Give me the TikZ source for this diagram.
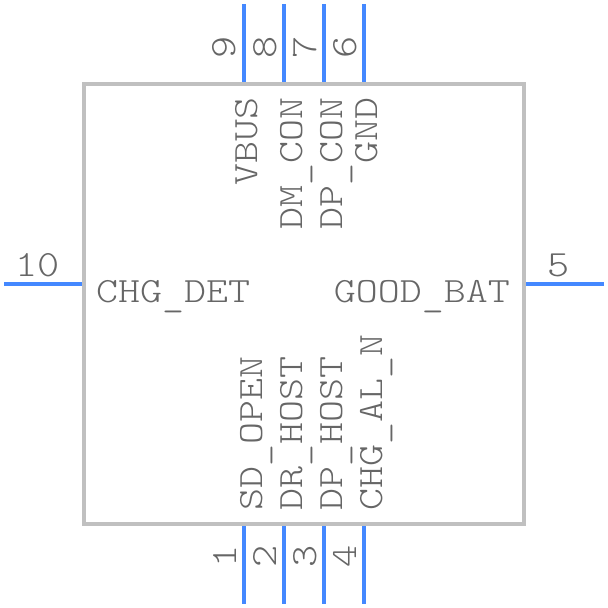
\documentclass[tikz,border=0pt]{standalone}
\usepackage{fontspec}
\newfontfamily\numfont[FakeStretch=1.14]{Latin Modern Mono Light}
\newfontfamily\namefont[FakeStretch=1.18]{Latin Modern Mono Light}
\newcommand{\lowbar}{\raisebox{-4pt}{\_}}
\definecolor{pinblue}{HTML}{4488FF}
\definecolor{boxgray}{HTML}{C0C0C0}
\definecolor{textgray}{HTML}{666666}
\tikzset{
    chipbox/.style={draw=boxgray, line width=4pt, minimum size=440pt, inner sep=0pt},
    pinline/.style={draw=pinblue, line width=4pt},
    pinlabel/.style={font=\fontsize{37}{37}\numfont, text=textgray, inner sep=0pt},
    signame/.style={font=\fontsize{35.5}{36}\namefont, text=textgray, inner sep=0pt}
}
\begin{document}
\begin{tikzpicture}[x=1pt, y=-1pt]
    \useasboundingbox (0,0) rectangle (608,608);

    % Chip outline
    \node[chipbox] (chip) at (304,304) {};

    % Top pins
    \foreach \num/\xpos/\base in {9/244/235, 8/284/276, 7/324/316, 6/364/356} {
        \coordinate (end\num) at (\xpos,4);
        \coordinate (pin\num) at (\xpos,82);
        \draw[pinline] (end\num) -- (pin\num);
        \node[pinlabel, rotate=90, anchor=base west] (num\num) at (\base,59) {\num};
    }

    % Bottom pins
    \foreach \num/\xpos/\base in {1/244/236, 2/284/276, 3/324/316, 4/364/356} {
        \coordinate (end\num) at (\xpos,604);
        \coordinate (pin\num) at (\xpos,526);
        \draw[pinline] (pin\num) -- (end\num);
        \node[pinlabel, rotate=90, anchor=base west] (num\num) at (\base,568) {\num};
    }

    % Side pins
    \coordinate (end10) at (4,284);
    \coordinate (pin10) at (82,284);
    \draw[pinline] (end10) -- (pin10);
    \node[pinlabel, anchor=base east] (num10) at (60,276) {10};
    \coordinate (end5) at (604,284);
    \coordinate (pin5) at (526,284);
    \draw[pinline] (pin5) -- (end5);
    \node[pinlabel, anchor=base east] (num5) at (570,276) {5};

    % Signal names
    \node[signame, rotate=90, anchor=base east] (vbus) at (257,97) {VBUS};
    \node[signame, rotate=90, anchor=base east] (dmcon) at (302,97) {DM\lowbar CON};
    \node[signame, rotate=90, anchor=base east] (dpcon) at (342,97) {DP\lowbar CON};
    \node[signame, rotate=90, anchor=base east] (gnd) at (377,97) {GND};
    \node[signame, rotate=90, anchor=base west] (sdopen) at (262,511) {SD\lowbar OPEN};
    \node[signame, rotate=90, anchor=base west] (drhost) at (302,511) {DR\lowbar HOST};
    \node[signame, rotate=90, anchor=base west] (dphost) at (342,511) {DP\lowbar HOST};
    \node[signame, rotate=90, anchor=base west] (chgal) at (382,511) {CHG\lowbar AL\lowbar N};
    \node[signame, anchor=base west] (chgdet) at (96,302) {CHG\lowbar DET};
    \node[signame, anchor=base east] (goodbat) at (510,302) {GOOD\lowbar BAT};
\end{tikzpicture}
\end{document}
